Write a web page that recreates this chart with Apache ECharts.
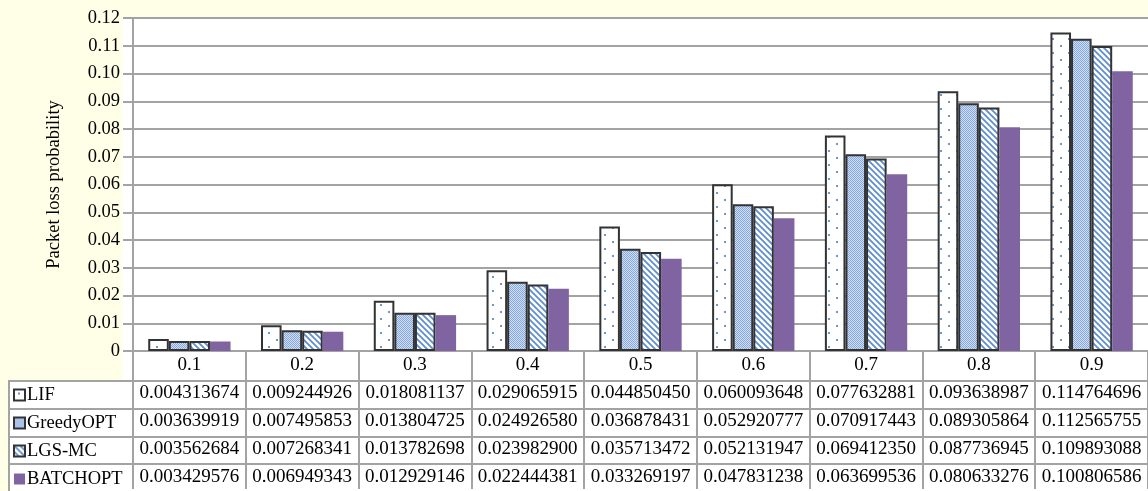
<!DOCTYPE html>
<html>
<head>
<meta charset="utf-8">
<script src="https://cdn.jsdelivr.net/npm/echarts@6/dist/echarts.min.js"></script>
<style>
html,body{margin:0;padding:0;background:#FFFEE6;}
#chart{width:1148px;height:491px;}
</style>
</head>
<body>
<div id="chart"></div>
<script>
var categories = ['0.1','0.2','0.3','0.4','0.5','0.6','0.7','0.8','0.9'];
var seriesNames = ['LIF','GreedyOPT','LGS-MC','BATCHOPT'];
var lif = [0.004313674,0.009244926,0.018081137,0.029065915,0.044850450,0.060093648,0.077632881,0.093638987,0.114764696];
var greedyOpt = [0.003639919,0.007495853,0.013804725,0.024926580,0.036878431,0.052920777,0.070917443,0.089305864,0.112565755];
var lgsMc = [0.003562684,0.007268341,0.013782698,0.023982900,0.035713472,0.052131947,0.069412350,0.087736945,0.109893088];
var batchOpt = [0.003429576,0.006949343,0.012929146,0.022444381,0.033269197,0.047831238,0.063699536,0.080633276,0.100806586];
var yTicks = [0,0.01,0.02,0.03,0.04,0.05,0.06,0.07,0.08,0.09,0.10,0.11,0.12];
var yTitle = 'Packet loss probability';

var rows = [lif, greedyOpt, lgsMc, batchOpt];
var FONT = '"Liberation Serif", "Times New Roman", serif';
var FS = 18.5;
var GRAY = '#a3a3a3';

function makePattern(w, h, draw) {
  var c = document.createElement('canvas');
  c.width = w; c.height = h;
  var ctx = c.getContext('2d');
  draw(ctx, w, h);
  return {image: c, repeat: 'repeat'};
}
var patLIF = makePattern(16, 14, function (ctx, w, h) {
  ctx.fillStyle = '#ffffff'; ctx.fillRect(0, 0, w, h);
  ctx.fillStyle = '#6f96cc';
  ctx.fillRect(4, 3, 2, 2);
  ctx.fillRect(12, 10, 2, 2);
});
var patGreedy = makePattern(2, 2, function (ctx, w, h) {
  ctx.fillStyle = '#d0def3'; ctx.fillRect(0, 0, w, h);
  ctx.fillStyle = '#87a9de';
  ctx.fillRect(0, 0, 1, 1);
  ctx.fillRect(1, 1, 1, 1);
});
var patLGS = makePattern(6, 6, function (ctx, w, h) {
  ctx.fillStyle = '#ffffff'; ctx.fillRect(0, 0, w, h);
  ctx.strokeStyle = '#5f8ed0'; ctx.lineWidth = 1.8;
  ctx.beginPath();
  ctx.moveTo(-1, -1); ctx.lineTo(w + 1, h + 1);
  ctx.moveTo(-1, h - 1); ctx.lineTo(1, h + 1);
  ctx.moveTo(w - 1, -1); ctx.lineTo(w + 1, 1);
  ctx.stroke();
});

var styles = [
  {color: patLIF, borderColor: '#333333', borderWidth: 2},
  {color: patGreedy, borderColor: '#333333', borderWidth: 2},
  {color: patLGS, borderColor: '#333333', borderWidth: 2},
  {color: '#8064A2', borderWidth: 0}
];

var chart = echarts.init(document.getElementById('chart'), null, {renderer: 'canvas'});

var series = rows.map(function (r, i) {
  return {
    name: seriesNames[i],
    type: 'bar',
    data: r,
    barGap: '0%',
    barCategoryGap: '27%',
    itemStyle: styles[i],
    emphasis: {disabled: true}
  };
});

var tableLineYs = [381, 409, 437, 464];
var graphics = [
  {type: 'rect', z: -10, shape: {x: 122, y: 17, width: 1030, height: 364}, style: {fill: '#ffffff'}, silent: true},
  {type: 'rect', z: -10, shape: {x: 8, y: 381, width: 1144, height: 112}, style: {fill: '#ffffff'}, silent: true},
  {type: 'line', z: 5, shape: {x1: 9, y1: 381, x2: 9, y2: 491}, style: {stroke: GRAY, lineWidth: 2}, silent: true}
];
tableLineYs.forEach(function (y) {
  graphics.push({type: 'line', z: 5, shape: {x1: 8, y1: y, x2: 1148, y2: y}, style: {stroke: GRAY, lineWidth: 2}, silent: true});
});

chart.setOption({
  animation: false,
  backgroundColor: '#FFFEE6',
  textStyle: {fontFamily: FONT},
  graphic: graphics,
  legend: {
    orient: 'vertical',
    left: 13,
    top: 385,
    padding: 0,
    itemWidth: 11,
    itemHeight: 11,
    itemGap: 8,
    icon: 'rect',
    selectedMode: false,
    data: seriesNames,
    textStyle: {fontFamily: FONT, fontSize: FS, color: '#000', lineHeight: 20, padding: [0, 0, 0, -3]}
  },
  grid: {left: 133, top: 18, width: 1017, height: 335, containLabel: false},
  xAxis: {
    type: 'category',
    data: categories,
    axisLine: {show: true, lineStyle: {color: GRAY, width: 2}},
    axisTick: {show: true, interval: 0, length: 138, lineStyle: {color: GRAY, width: 2}},
    axisLabel: {
      interval: 0,
      margin: 0,
      fontFamily: FONT,
      fontSize: 19,
      color: '#000',
      lineHeight: 28,
      formatter: function (v, idx) {
        var lines = [v];
        rows.forEach(function (r) { lines.push(r[idx].toFixed(9)); });
        return lines.join('\n');
      }
    }
  },
  yAxis: {
    type: 'value',
    min: yTicks[0],
    max: yTicks[yTicks.length - 1],
    interval: 0.01,
    name: yTitle,
    nameLocation: 'middle',
    nameGap: 69,
    nameTextStyle: {fontFamily: FONT, fontSize: FS, color: '#000'},
    axisLine: {show: true, lineStyle: {color: GRAY, width: 2}},
    axisTick: {show: true, length: 10, lineStyle: {color: GRAY, width: 2}},
    splitLine: {show: true, lineStyle: {color: GRAY, width: 2}},
    axisLabel: {
      margin: 13,
      fontFamily: FONT,
      fontSize: FS,
      color: '#000',
      formatter: function (v) { return v === 0 ? '0' : v.toFixed(2); }
    }
  },
  series: series
});
</script>
</body>
</html>
